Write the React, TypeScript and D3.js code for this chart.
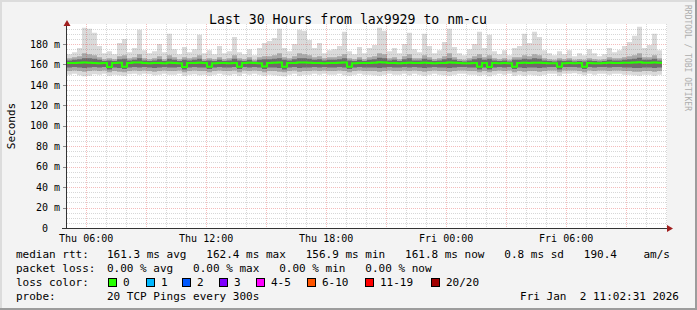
import React from "react";
import * as d3 from "d3";

const WIDTH = 697;
const HEIGHT = 310;
const PLOT = { left: 67, right: 667, top: 24, bottom: 228 };
const FONT = "'DejaVu Sans Mono', monospace";

const TITLE = "Last 30 Hours from lax9929 to nm-cu";
const Y_LABEL = "Seconds";
const WATERMARK = "RRDTOOL / TOBI OETIKER";
const START_MS = Date.UTC(2026, 0, 1, 5, 2, 31);
const END_MS = Date.UTC(2026, 0, 2, 11, 2, 31);
const STEP_MINUTES = 15;
const Y_MAX = 199.6;

const yTickValues = [0, 20, 40, 60, 80, 100, 120, 140, 160, 180];
const yTickLabels = ["0", "20 m", "40 m", "60 m", "80 m", "100 m", "120 m", "140 m", "160 m", "180 m"];
const xTickTimes = [
  Date.UTC(2026, 0, 1, 6),
  Date.UTC(2026, 0, 1, 12),
  Date.UTC(2026, 0, 1, 18),
  Date.UTC(2026, 0, 2, 0),
  Date.UTC(2026, 0, 2, 6),
];
const xTickLabels = ["Thu 06:00", "Thu 12:00", "Thu 18:00", "Fri 00:00", "Fri 06:00"];

// smoke (ms), one value per 15-minute column
const smokeMax = [
  170, 172, 176, 196, 195, 191, 178, 171, 173, 170,
  181, 185, 172, 176, 194, 174, 171, 173, 180, 172,
  190, 175, 170, 177, 172, 175, 189, 171, 174, 170,
  178, 171, 173, 187, 172, 170, 175, 169, 176, 181,
  183, 186, 195, 176, 173, 180, 194, 193, 184, 176,
  181, 171, 174, 175, 178, 192, 173, 170, 177, 171,
  176, 179, 196, 193, 173, 176, 171, 180, 191, 175,
  172, 190, 178, 171, 174, 182, 195, 177, 171, 169,
  175, 180, 192, 176, 189, 173, 170, 174, 169, 176,
  178, 190, 181, 192, 187, 174, 171, 169, 173, 170,
  174, 168, 171, 169, 175, 171, 168, 170, 176, 172,
  174, 178, 182, 188, 197, 176, 179, 190, 174,
];
const smokeP90 = [
  166, 167, 168, 171, 170, 169, 167, 165, 166, 165,
  168, 169, 166, 167, 170, 166, 165, 166, 168, 165,
  169, 167, 165, 167, 166, 167, 169, 165, 166, 165,
  167, 165, 166, 169, 166, 165, 167, 164.5, 167, 168,
  168, 169, 171, 167, 166, 168, 171, 170, 169, 167,
  168, 166, 167, 167, 168, 170, 166, 165, 167, 165,
  167, 168, 171, 170, 166, 167, 165, 168, 170, 166,
  166, 169, 167, 165, 166, 168, 171, 167, 165, 164.5,
  166, 168, 170, 167, 169, 166, 165, 166, 164.5, 167,
  167, 169, 168, 170, 169, 166, 165, 164.5, 166, 165,
  166, 164.5, 165, 164.5, 166, 165, 164.5, 165, 167, 166,
  166, 167, 168, 169, 171, 167, 167, 169, 166,
];
const smokeP75 = [
  164, 164.5, 165, 166, 166, 165.5, 164.5, 163.5, 164, 163.5,
  165, 165.5, 164, 164.5, 166, 164, 163.5, 164, 165, 163.5,
  165.5, 164.5, 163.5, 164.5, 164, 164.5, 165.5, 163.5, 164, 163.5,
  164.5, 163.5, 164, 165.5, 164, 163.5, 164.5, 163, 164.5, 165,
  165, 165.5, 166, 164.5, 164, 165, 166, 166, 165.5, 164.5,
  165, 164, 164.5, 164.5, 165, 166, 164, 163.5, 164.5, 163.5,
  164.5, 165, 166.5, 166, 164, 164.5, 163.5, 165, 166, 164,
  164, 165.5, 164.5, 163.5, 164, 165, 166, 164.5, 163.5, 163,
  164, 165, 166, 164.5, 165.5, 164, 163.5, 164, 163, 164.5,
  164.5, 165.5, 165, 166, 165.5, 164, 163.5, 163, 164, 163.5,
  164, 163, 163.5, 163, 164, 163.5, 163, 163.5, 164.5, 164,
  164, 164.5, 165, 165.5, 166.5, 164.5, 164.5, 165.5, 164,
];
const medianRtt = [
  161.5, 161.5, 161.8, 162, 161.8, 161.5, 161.3, 161.5, 157.5, 161.5,
  161.8, 157.8, 161.5, 162, 162, 161.5, 161.3, 161.5, 161.5, 161.3,
  161.8, 161.5, 161.3, 157.5, 161.5, 161.5, 161.8, 161.5, 157.8, 161.3,
  161.5, 161.5, 161.3, 161.5, 157.8, 161.5, 161.8, 161.5, 161.3, 158,
  161.5, 161.8, 162, 157.8, 161.5, 161.5, 162, 162, 161.8, 161.5,
  161.5, 161.3, 161.5, 161.5, 161.8, 162, 157.8, 161.3, 161.5, 161.5,
  161.5, 161.8, 162.2, 162, 161.5, 161.5, 161.3, 161.5, 161.8, 161.5,
  161.5, 161.8, 161.5, 161.3, 161.5, 161.5, 162, 161.8, 161.5, 161.3,
  161.3, 161.5, 157.8, 161.5, 157.5, 161.5, 161.3, 161.5, 161.3, 157.8,
  161.5, 161.8, 161.5, 161.8, 161.8, 161.5, 161.3, 161.3, 157.8, 161.3,
  161.5, 161.3, 161.5, 157.8, 161.5, 161.3, 161.3, 161.5, 161.8, 161.5,
  161.5, 161.8, 161.8, 162, 162.2, 161.8, 161.8, 162, 161.8,
];
const smokeP25 = [
  157, 157.5, 157, 156.5, 157, 157.5, 157, 157.5, 155, 157,
  156.5, 155.5, 157, 157.5, 157, 157.5, 157, 156.5, 157, 157.5,
  157, 157, 157.5, 155, 157, 157.5, 157, 157, 155.5, 157,
  157.5, 157, 157, 157.5, 155.5, 157.5, 157, 157.5, 157, 155.5,
  157, 157, 156.5, 155, 157, 157.5, 156.5, 157, 157, 157.5,
  157, 157.5, 157, 157, 157.5, 157, 155.5, 157, 157.5, 157,
  157, 157, 156.5, 157, 157.5, 157, 157, 157.5, 157, 157.5,
  157, 156.5, 157, 157.5, 157, 157, 156.5, 157, 157.5, 157.5,
  157, 157, 155, 157, 155, 157, 157.5, 157, 157.5, 155.5,
  157, 156.5, 157, 157, 156.5, 157, 157.5, 157.5, 155, 157.5,
  157.5, 157.5, 157, 155.5, 157.5, 157, 157.5, 157.5, 157, 157.5,
  157.5, 157, 157, 156.5, 156.5, 157, 157, 156.5, 157,
];
const smokeP10 = [
  153.5, 154, 153.5, 153, 153.5, 154, 153.5, 154, 152.5, 153.5,
  153, 152.5, 153.5, 154, 153.5, 154, 153.5, 153, 153.5, 154,
  153.5, 153.5, 154, 152.5, 153.5, 154, 153.5, 153.5, 152.5, 153.5,
  154, 153.5, 153.5, 154, 152.5, 154, 153.5, 154, 153.5, 152.5,
  153.5, 153.5, 153, 152.5, 153.5, 154, 153, 153.5, 153.5, 154,
  153.5, 154, 153.5, 153.5, 154, 153.5, 152.5, 153.5, 154, 153.5,
  153.5, 153.5, 153, 153.5, 154, 153.5, 153.5, 154, 153.5, 154,
  153.5, 153, 153.5, 154, 153.5, 153.5, 153, 153.5, 154, 154,
  153.5, 153.5, 152.5, 153.5, 152.5, 153.5, 154, 153.5, 154, 152.5,
  153.5, 153, 153.5, 153.5, 153, 153.5, 154, 154, 152.5, 154,
  154, 154, 153.5, 152.5, 154, 153.5, 154, 154, 153.5, 154,
  154, 153.5, 153.5, 153, 153, 153.5, 153.5, 153, 153.5,
];
const smokeMin = [
  150, 151, 149.5, 148.5, 149, 150.5, 150, 151, 149, 150,
  149.5, 149, 150.5, 151, 150, 151, 150.5, 149.5, 150, 151,
  150, 150, 151, 149, 150, 150.5, 149.5, 150, 149, 150,
  151, 150, 149.5, 150.5, 149, 151, 150, 151, 150, 149,
  150, 149.5, 149, 148.5, 150, 151, 149, 150, 150, 151,
  150, 151, 150, 150, 151, 149.5, 149, 150, 151, 150,
  150, 149.5, 149, 150, 151, 150, 150, 151, 149.5, 151,
  150, 149, 150, 151, 150, 149.5, 149, 150, 151, 151,
  150, 150, 149, 150, 148.5, 150, 151, 150, 151, 149,
  150, 149, 150, 149.5, 149, 150, 151, 151, 149, 151,
  151, 151.5, 150.5, 149.5, 151, 150, 151, 151, 150, 151,
  151, 150, 150, 149.5, 149, 150, 150, 149, 150,
];

const lossColors = ["#26ff00", "#00b8ff", "#0059ff", "#7e00ff", "#ff00ff", "#ff5500", "#ff0000", "#a10000"];
const lossLabels = ["0", "1", "2", "3", "4-5", "6-10", "11-19", "20/20"];
const medianStats = [
  ["161.3", "ms avg"],
  ["162.4", "ms max"],
  ["156.9", "ms min"],
  ["161.8", "ms now"],
  ["0.8", "ms sd"],
];
const amsValue = "190.4";
const lossStats = [
  ["0.00", "% avg"],
  ["0.00", "% max"],
  ["0.00", "% min"],
  ["0.00", "% now"],
];
const probeText = "20 TCP Pings every 300s";
const dateText = "Fri Jan  2 11:02:31 2026";

// layout of legend swatches (px)
const swatchX = [108, 146, 182, 219, 256, 307, 365, 431];

export default function App() {
  const x = d3.scaleUtc().domain([new Date(START_MS), new Date(END_MS)]).range([PLOT.left, PLOT.right]);
  const y = d3.scaleLinear().domain([0, Y_MAX]).range([PLOT.bottom, PLOT.top]);

  const n = Math.min(smokeMax.length, smokeP90.length, smokeP75.length, medianRtt.length, smokeP25.length, smokeP10.length, smokeMin.length);
  const tAt = (i: number) => new Date(START_MS + i * STEP_MINUTES * 60000);
  const idx = d3.range(n + 1);
  const cl = (i: number) => Math.min(i, n - 1);

  const band = (lo: number[], hi: number[]) =>
    d3
      .area<number>()
      .x((i) => x(tAt(i)))
      .y0((i) => y(lo[cl(i)]))
      .y1((i) => y(hi[cl(i)]))
      .curve(d3.curveStepAfter)(idx) || "";

  const medianPath =
    d3
      .line<number>()
      .x((i) => x(tAt(i)))
      .y((i) => y(medianRtt[cl(i)]))
      .curve(d3.curveStepAfter)(idx) || "";

  const hours = d3.utcHour.range(new Date(START_MS), new Date(END_MS + 1));
  const minorV = hours.filter((h) => h.getUTCHours() % 3 !== 0);
  const majorV = hours.filter((h) => h.getUTCHours() % 3 === 0);
  const hVals = d3.range(5, Y_MAX, 5);
  const minorH = hVals.filter((v) => v % 20 !== 0);
  const majorH = hVals.filter((v) => v % 20 === 0);

  const px = (v: number) => Math.round(v) + 0.5;
  const minorColor = "rgba(130,130,130,0.32)";
  const majorColor = "rgba(222,48,48,0.32)";

  const row1 =
    medianStats.map(([v, u]) => `${v} ${u}`).join("   ") + "   " + amsValue + "    am/s";
  const row2 = lossStats.map(([v, u]) => `${v} ${u}`).join("   ");
  const pre = { whiteSpace: "pre" as const };

  return (
    <svg
      width={WIDTH}
      height={HEIGHT}
      style={{ position: "absolute", left: 0, top: 0, display: "block" }}
      fontFamily={FONT}
    >
      <rect x={0} y={0} width={WIDTH} height={HEIGHT} fill="#f3f3f3" />
      <rect x={0} y={0} width={WIDTH} height={2} fill="#dcdcdc" />
      <rect x={0} y={0} width={2} height={HEIGHT} fill="#dcdcdc" />
      <rect x={0} y={HEIGHT - 2} width={WIDTH} height={2} fill="#9c9c9c" />
      <rect x={WIDTH - 2} y={0} width={2} height={HEIGHT} fill="#9c9c9c" />

      <rect x={PLOT.left} y={PLOT.top} width={PLOT.right - PLOT.left} height={PLOT.bottom - PLOT.top} fill="#ffffff" />

      {/* smoke */}
      <path d={band(smokeMin, smokeMax)} fill="#dadada" />
      <path d={band(smokeP10, smokeP90)} fill="#a9a9a9" />
      <path d={band(smokeP25, smokeP75)} fill="#6c6c6c" />

      {/* grid */}
      <g strokeWidth={1} strokeDasharray="1,1" fill="none">
        {minorH.map((v) => (
          <line key={"mh" + v} x1={PLOT.left} x2={PLOT.right} y1={px(y(v))} y2={px(y(v))} stroke={minorColor} />
        ))}
        {minorV.map((h) => (
          <line key={"mv" + +h} x1={px(x(h))} x2={px(x(h))} y1={PLOT.top} y2={PLOT.bottom} stroke={minorColor} />
        ))}
        {majorH.map((v) => (
          <line key={"Mh" + v} x1={PLOT.left} x2={PLOT.right} y1={px(y(v))} y2={px(y(v))} stroke={majorColor} />
        ))}
        {majorV.map((h) => (
          <line key={"Mv" + +h} x1={px(x(h))} x2={px(x(h))} y1={PLOT.top} y2={PLOT.bottom} stroke={majorColor} />
        ))}
      </g>

      {/* median */}
      <path d={medianPath} fill="none" stroke="#26ff00" strokeWidth={2} />

      {/* axes */}
      {yTickValues.map((v) => (
        <line key={"yt" + v} x1={63} x2={67} y1={px(y(v))} y2={px(y(v))} stroke="#8a8a8a" />
      ))}
      <line x1={66.5} x2={66.5} y1={PLOT.bottom + 1} y2={PLOT.top + 1} stroke="#333" />
      <line x1={62} x2={PLOT.right + 1} y1={228.5} y2={228.5} stroke="#333" />
      <path d="M67,20 L63.5,26 L70.5,26 Z" fill="#a01e1e" />
      <path d="M673,228.5 L667,225 L667,232 Z" fill="#a01e1e" />

      {/* y labels */}
      <g fontSize={10} fill="#000" textAnchor="end">
        {yTickValues.map((v, i) => (
          <text key={"yl" + v} x={v === 0 ? 48 : 60} y={y(v) + 3.6}>
            {yTickLabels[i]}
          </text>
        ))}
      </g>
      {/* x labels */}
      <g fontSize={10} fill="#000" textAnchor="middle">
        {xTickTimes.map((t, i) => (
          <text key={"xl" + t} x={x(new Date(t))} y={241.5}>
            {xTickLabels[i]}
          </text>
        ))}
      </g>

      <text x={348} y={24} fontSize={13.2} textAnchor="middle" fill="#000">
        {TITLE}
      </text>
      <text transform="translate(14.5,126) rotate(-90)" fontSize={11} textAnchor="middle" fill="#000">
        {Y_LABEL}
      </text>
      <text transform="translate(685,5) rotate(90)" fontSize={8} fill="#adadad">
        {WATERMARK}
      </text>

      {/* legend */}
      <g fontSize={11} fill="#000">
        <text x={16} y={258} style={pre} xmlSpace="preserve">median rtt:</text>
        <text x={107} y={258} style={pre} xmlSpace="preserve">{row1}</text>
        <text x={16} y={272} style={pre} xmlSpace="preserve">packet loss:</text>
        <text x={107} y={272} style={pre} xmlSpace="preserve">{row2}</text>
        <text x={16} y={286} style={pre} xmlSpace="preserve">loss color:</text>
        {lossLabels.map((l, i) => (
          <g key={"lc" + l}>
            <rect x={swatchX[i] + 0.5} y={278.5} width={8} height={8} fill={lossColors[i]} stroke="#000" strokeWidth={1} />
            <text x={swatchX[i] + 15} y={286}>
              {l}
            </text>
          </g>
        ))}
        <text x={16} y={300} style={pre} xmlSpace="preserve">probe:</text>
        <text x={107} y={300} style={pre} xmlSpace="preserve">{probeText}</text>
        <text x={679} y={300} textAnchor="end" style={pre} xmlSpace="preserve">
          {dateText}
        </text>
      </g>
    </svg>
  );
}
